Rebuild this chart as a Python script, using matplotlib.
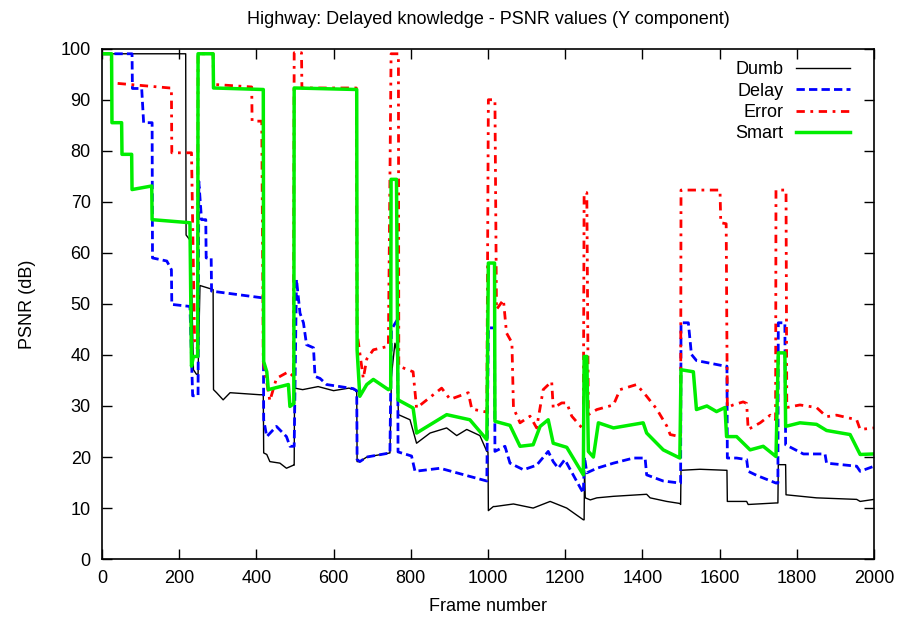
import matplotlib.pyplot as plt

plt.rcParams['font.family'] = ['Liberation Sans', 'DejaVu Sans']

# frame numbers / PSNR values (breakpoints)
dumb_f = [0, 217, 218, 230, 237, 245, 249, 254, 288, 289, 297, 314, 332, 409, 418, 419, 427, 435,
          461, 478, 496, 498, 499, 520, 560, 600, 640, 660, 661, 668, 686, 746, 750, 759, 763, 768,
          798, 815, 850, 893, 919, 945, 979, 997, 1000, 1001, 1014, 1018, 1066, 1117, 1161, 1204,
          1247, 1249, 1250, 1252, 1265, 1282, 1325, 1411, 1420, 1463, 1497, 1499, 1500, 1549, 1617,
          1619, 1620, 1670, 1674, 1746, 1751, 1752, 1769, 1771, 1772, 1851, 1955, 1964, 2000]
dumb_v = [99, 99, 63.5, 62.3, 37.1, 36.2, 36.2, 53.6, 52.8, 33.2, 32.6, 31.2, 32.6, 32.2, 32.2, 20.8,
          20.5, 19.1, 18.8, 17.8, 18.4, 18.4, 33.5, 33.2, 33.8, 33.0, 33.5, 33.0, 19.1, 19.1, 20.0,
          20.8, 36.0, 42.3, 41.0, 28.3, 27.3, 22.7, 24.7, 25.7, 24.2, 25.4, 24.2, 21.1, 21.0, 9.5,
          10.3, 10.3, 10.8, 10.0, 11.3, 10.0, 7.7, 7.7, 17.0, 12.0, 11.6, 12.0, 12.3, 12.7, 12.0,
          11.3, 10.9, 10.7, 17.4, 17.6, 17.4, 17.4, 11.3, 11.3, 10.7, 11.0, 11.0, 18.5, 18.5, 18.5,
          12.6, 12.0, 11.7, 11.3, 11.7]

delay_f = [0, 78, 79, 103, 108, 130, 131, 168, 180, 181, 228, 235, 249, 251, 258, 269, 270, 283, 284,
           414, 418, 419, 427, 452, 478, 487, 498, 504, 513, 522, 530, 548, 552, 565, 582, 651, 660,
           661, 668, 686, 746, 750, 766, 767, 802, 811, 876, 953, 997, 1001, 1017, 1018, 1044, 1057,
           1092, 1126, 1156, 1169, 1182, 1199, 1225, 1247, 1250, 1256, 1282, 1325, 1377, 1407, 1411,
           1454, 1497, 1499, 1500, 1519, 1527, 1540, 1614, 1619, 1620, 1644, 1670, 1674, 1696, 1746,
           1751, 1752, 1769, 1771, 1817, 1873, 1877, 1955, 1964, 2000]
delay_v = [99, 99, 92.2, 92.2, 85.5, 85.5, 59.0, 58.4, 56.7, 49.9, 49.5, 32.0, 32.0, 74.0, 66.5, 66.5,
           59.0, 59.0, 52.5, 51.2, 51.2, 27.3, 24.0, 26.0, 24.0, 22.1, 22.1, 54.8, 48.2, 46.3, 42.0,
           41.4, 35.8, 35.4, 34.2, 33.4, 33.0, 19.5, 19.1, 20.0, 20.8, 45.0, 47.0, 21.0, 20.2, 17.2,
           17.8, 16.2, 15.3, 45.3, 45.3, 21.1, 22.1, 18.8, 17.5, 18.4, 21.1, 19.1, 17.8, 19.5, 15.9,
           12.9, 20.0, 16.9, 17.8, 18.8, 19.8, 19.8, 16.5, 15.3, 14.9, 14.9, 46.3, 46.3, 40.1, 38.9,
           37.8, 37.8, 19.8, 19.8, 19.5, 17.2, 16.4, 14.9, 14.9, 46.3, 46.3, 22.4, 20.6, 20.6, 18.8,
           18.2, 17.2, 18.2]

error_f = [0, 24, 25, 176, 180, 181, 232, 240, 248, 249, 288, 289, 388, 389, 414, 418, 435, 452, 483,
           496, 498, 517, 518, 659, 661, 677, 686, 703, 742, 749, 768, 769, 806, 815, 880, 902, 949,
           958, 997, 1001, 1018, 1022, 1040, 1048, 1062, 1066, 1083, 1109, 1126, 1143, 1165, 1169,
           1191, 1204, 1217, 1247, 1249, 1256, 1260, 1282, 1325, 1342, 1385, 1411, 1437, 1463, 1472,
           1497, 1499, 1500, 1601, 1603, 1617, 1620, 1635, 1661, 1670, 1674, 1705, 1731, 1745, 1746,
           1772, 1774, 1808, 1851, 1877, 1903, 1955, 1964, 2000]
error_v = [99, 99, 93.3, 92.3, 92.3, 79.6, 79.6, 43.0, 41.0, 99, 99, 93.0, 92.5, 85.8, 85.8, 38.7,
           31.0, 35.4, 36.7, 35.8, 99.2, 99.2, 92.3, 92.3, 44.3, 35.4, 39.2, 41.0, 41.7, 99, 99, 37.8,
           36.7, 29.6, 33.5, 31.3, 32.6, 29.4, 28.8, 90, 90, 48.9, 50.8, 44.3, 42.4, 29.6, 26.7, 28.0,
           25.7, 33.2, 34.8, 29.6, 30.6, 30.6, 28.0, 25.4, 71.8, 71.8, 28.3, 29.3, 30.2, 33.2, 34.2,
           31.9, 29.4, 26.1, 24.4, 24.0, 24.0, 72.3, 72.3, 65.9, 65.7, 29.7, 30.2, 30.8, 30.5, 25.4,
           26.7, 28.2, 27.3, 72.3, 72.3, 29.7, 30.2, 29.7, 27.9, 28.2, 27.3, 25.4, 25.7]

smart_f = [0, 25, 26, 51, 52, 77, 78, 129, 130, 228, 232, 237, 248, 249, 288, 289, 418, 419, 427, 431,
           483, 487, 497, 498, 660, 661, 668, 686, 703, 742, 748, 749, 763, 767, 806, 815, 893, 953,
           997, 1001, 1017, 1018, 1057, 1083, 1117, 1135, 1156, 1169, 1204, 1247, 1249, 1256, 1260,
           1273, 1286, 1325, 1402, 1411, 1454, 1497, 1500, 1532, 1540, 1567, 1592, 1614, 1618, 1644,
           1679, 1713, 1746, 1752, 1769, 1771, 1808, 1851, 1877, 1938, 1964, 2000]
smart_v = [99, 99, 85.5, 85.5, 79.3, 79.3, 72.4, 73.1, 66.5, 65.9, 37.8, 39.7, 39.7, 99, 99, 92.3,
           92.0, 38.7, 36.7, 33.2, 34.2, 29.9, 30.5, 92.3, 92.0, 41.0, 31.9, 34.2, 35.2, 33.2, 33.5,
           74.4, 74.4, 31.2, 29.6, 24.7, 28.3, 27.3, 23.4, 58.0, 58.0, 27.0, 26.2, 22.1, 22.4, 26.0,
           27.3, 22.7, 21.9, 16.5, 39.7, 39.7, 21.1, 20.0, 26.7, 25.7, 26.7, 24.7, 21.4, 19.8, 37.1,
           36.7, 29.3, 30.0, 28.9, 29.7, 24.0, 24.0, 21.4, 22.1, 20.1, 40.4, 40.4, 26.0, 26.7, 26.4,
           25.2, 24.4, 20.5, 20.6]

fig = plt.figure(figsize=(9.02, 6.24), dpi=100)
ax = fig.add_axes([0.113, 0.104, 0.856, 0.818])

ax.plot(dumb_f, dumb_v, color='black', lw=1.0, label='Dumb')
ax.plot(delay_f, delay_v, color='#0000ff', lw=2.0, linestyle=(0, (3, 1.5)), label='Delay')
ax.plot(error_f, error_v, color='#ff0000', lw=2.0, linestyle=(0, (3, 2, 1, 2)), label='Error')
ax.plot(smart_f, smart_v, color='#00ee00', lw=2.5, label='Smart')

ax.set_xlim(0, 2000)
ax.set_ylim(0, 100)
ax.set_xticks(range(0, 2001, 200))
ax.set_yticks(range(0, 101, 10))
ax.tick_params(direction='in', top=True, right=True, labelsize=13, length=7, width=1)
ax.tick_params(axis='x', pad=8)
ax.tick_params(axis='y', pad=8)
for s in ax.spines.values():
    s.set_linewidth(1.2)

ax.set_xlabel('Frame number', fontsize=13, labelpad=8)
ax.set_ylabel('PSNR (dB)', fontsize=13, labelpad=18)
ax.set_title('Highway: Delayed knowledge - PSNR values (Y component)', fontsize=13, pad=18)

ax.legend(loc='upper right', bbox_to_anchor=(0.969, 0.975), frameon=False, markerfirst=False,
          fontsize=13, handlelength=3.0, handletextpad=0.7, labelspacing=0.24,
          borderpad=0, borderaxespad=0)

fig.savefig('out.png', dpi=100)
